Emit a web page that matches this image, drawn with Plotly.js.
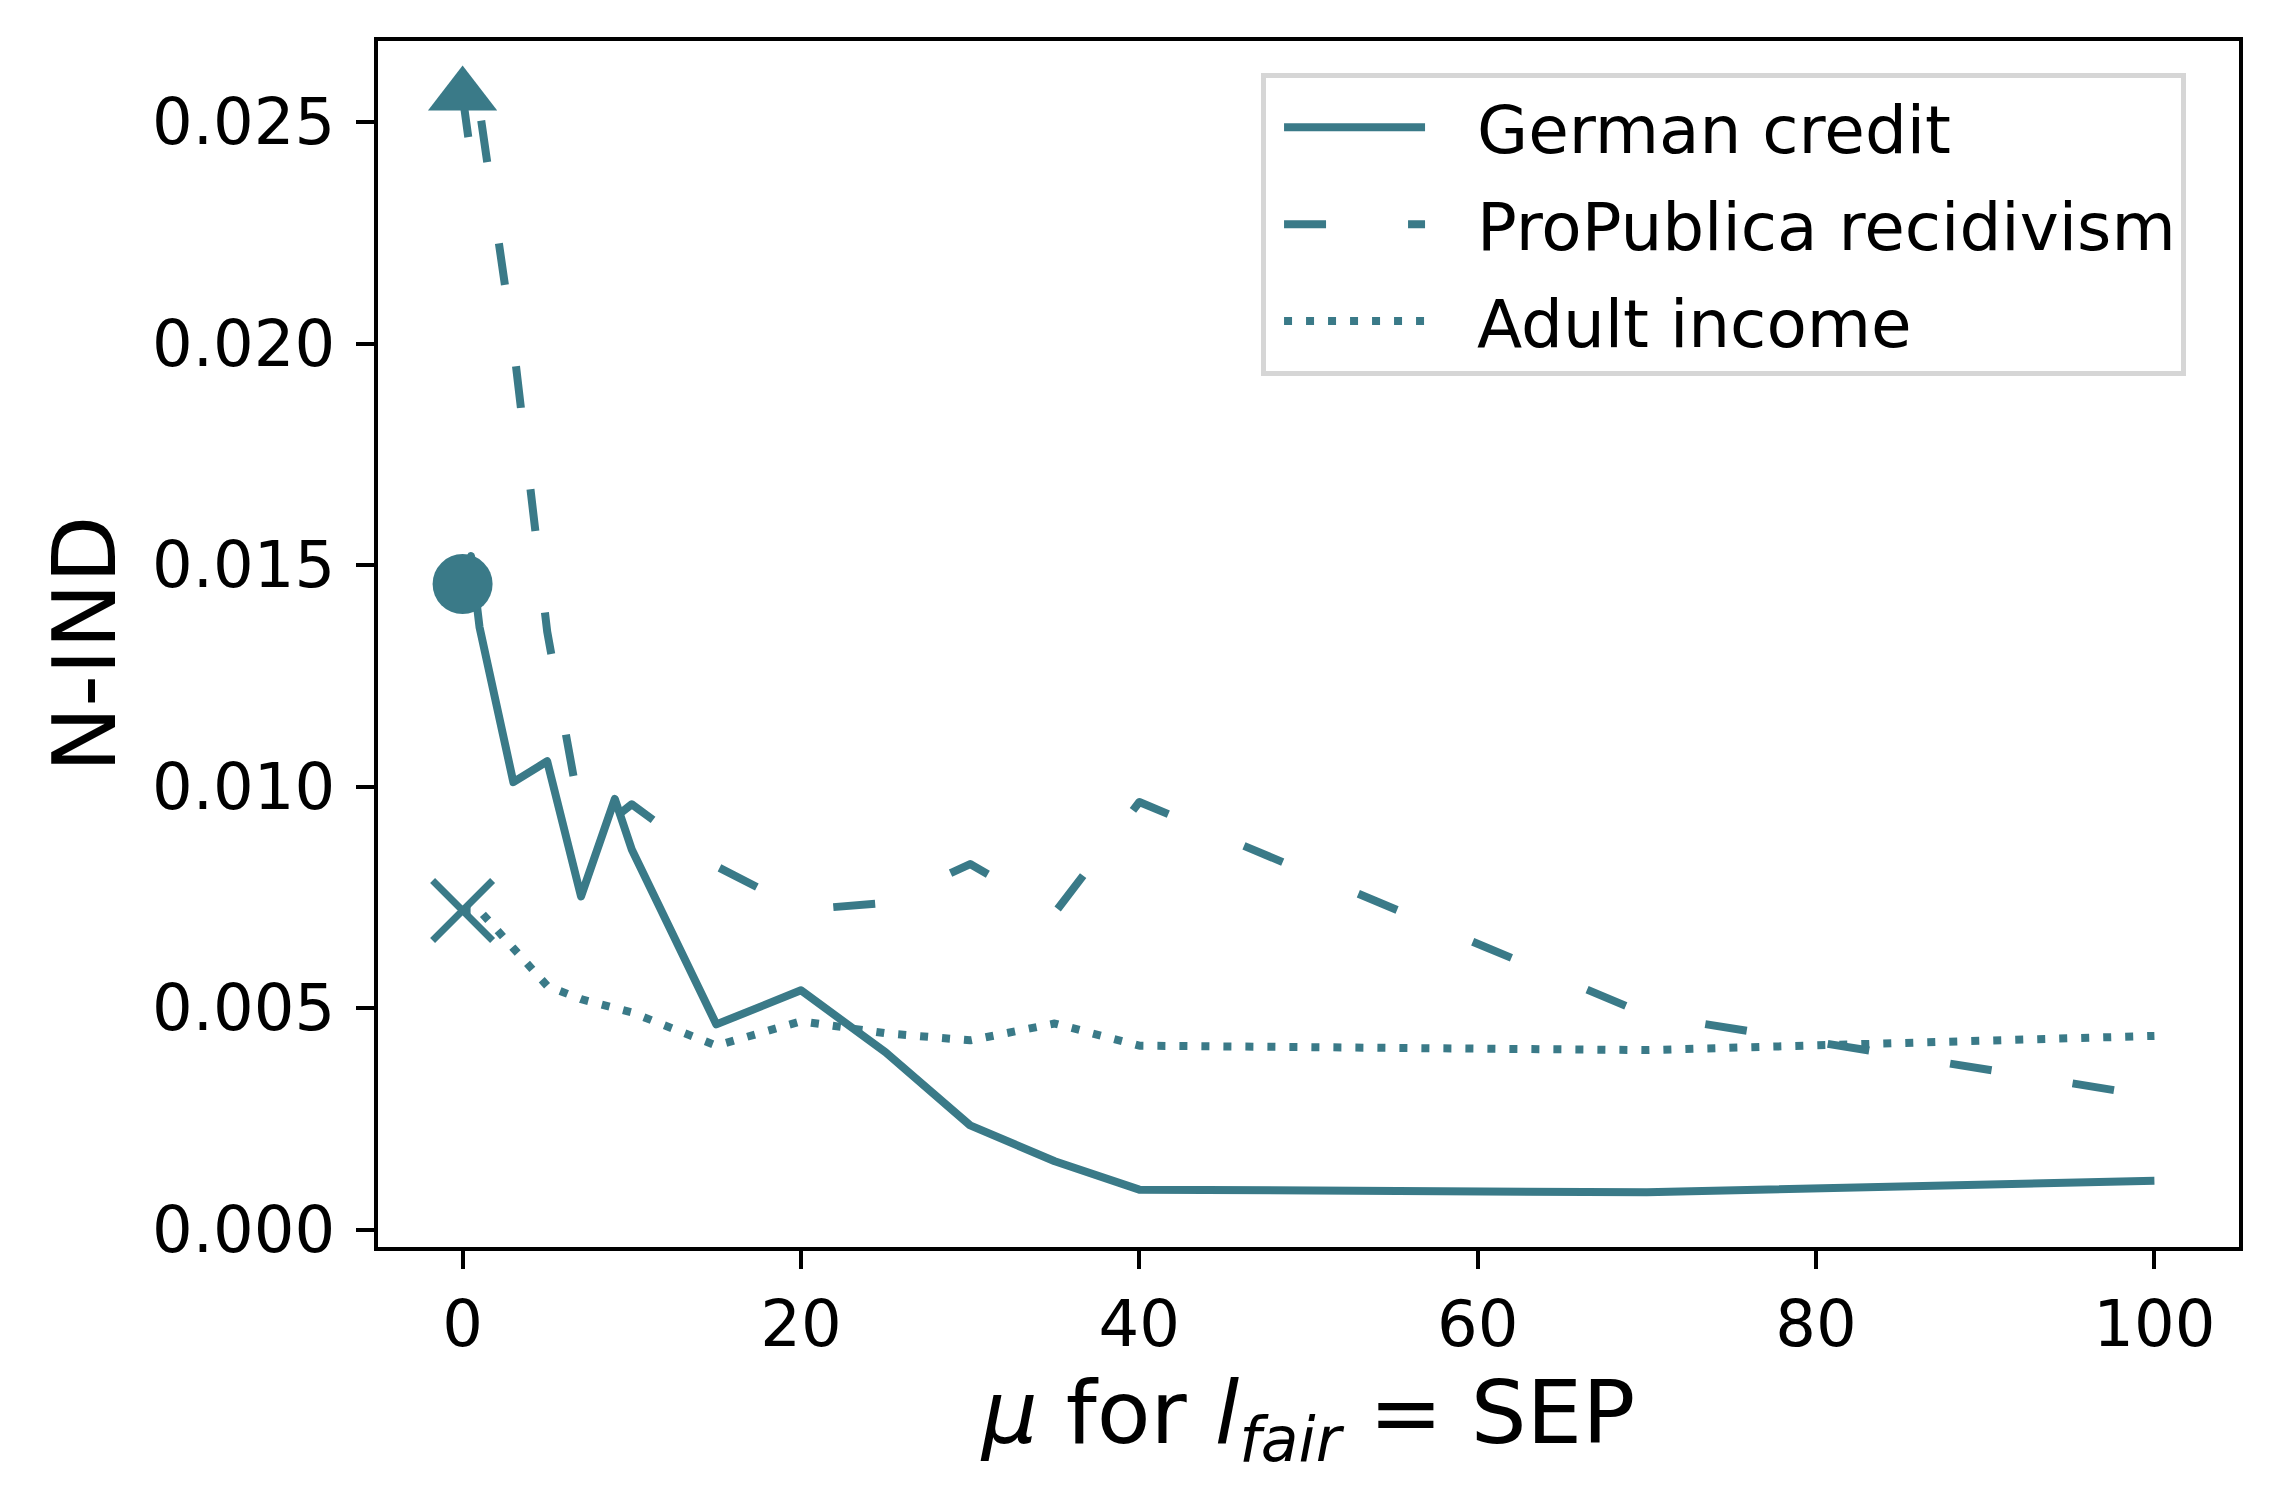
<!DOCTYPE html>
<html><head><meta charset="utf-8">
<script src="https://cdn.plot.ly/plotly-3.0.1.min.js"></script>
<style>
html,body{margin:0;padding:0;background:#fff;}
#chart{width:2278px;height:1504px;}
.scatterlayer path.js-line{stroke-linejoin:round;}
</style>
</head><body><div id="chart"></div>
<script>
// mu values (x axis)
const mu = [0, 0.5, 1, 3, 5, 7, 9, 10, 15, 20, 25, 30, 35, 40, 70, 100];
// N-IND per dataset
const germanCredit = [0.01457, 0.0152, 0.0136, 0.0101, 0.01057, 0.00752, 0.00972, 0.00858, 0.00463, 0.00540, 0.00400, 0.00235, 0.00154, 0.00090, 0.00084, 0.00110];
const propublica = [0.0256, 0.0242, 0.0253, 0.0200, 0.0135, 0.0093, 0.0093, 0.0096, 0.0082, 0.00722, 0.00737, 0.00825, 0.00715, 0.00965, 0.00485, 0.0030];
const adultIncome = [0.0072, 0.0072, 0.0072, 0.00635, 0.0055, 0.0052, 0.00502, 0.0049, 0.00415, 0.0047, 0.00443, 0.00427, 0.00465, 0.00415, 0.00405, 0.00437];
const seriesNames = ['German credit', 'ProPublica recidivism', 'Adult income'];
const xTicks = [0, 20, 40, 60, 80, 100];
const yTicks = [0, 0.005, 0.010, 0.015, 0.020, 0.025];

const color = '#3a7a88';
const lw = 8;

const traces = [
  {x: mu, y: germanCredit, name: seriesNames[0], mode: 'lines', line: {color: color, width: lw}, legendgroup: 'g1'},
  {x: mu, y: propublica, name: seriesNames[1], mode: 'lines', line: {color: color, width: lw, dash: '42px,82px'}, legendgroup: 'g2'},
  {x: mu, y: adultIncome, name: seriesNames[2], mode: 'lines', line: {color: color, width: lw, dash: '8px,14px'}, legendgroup: 'g3'},
  {x: [mu[0]], y: [germanCredit[0]], mode: 'markers', showlegend: false, marker: {symbol: 'circle', size: 60, color: color}},
  {x: [mu[0]], y: [propublica[0]], mode: 'markers', showlegend: false, marker: {symbol: 'triangle-up', size: 60, color: color}},
  {x: [mu[0]], y: [adultIncome[0]], mode: 'markers', showlegend: false, marker: {symbol: 'x-thin', size: 60, color: color, line: {color: color, width: 7}}}
];

const axisCommon = {
  ticks: 'outside', ticklen: 18, tickwidth: 4, tickcolor: '#000',
  showline: true, linewidth: 4, linecolor: '#000', mirror: true,
  showgrid: false, zeroline: false, automargin: false,
  tickfont: {family: 'DejaVu Sans', size: 64, color: '#000'}
};

const layout = {
  width: 2278, height: 1504,
  margin: {l: 378, r: 39, t: 41, b: 257, pad: 0},
  paper_bgcolor: '#ffffff', plot_bgcolor: '#ffffff',
  font: {family: 'DejaVu Sans', color: '#000'},
  showlegend: true,
  xaxis: Object.assign({}, axisCommon, {
    range: [-5, 105], tickmode: 'array', tickvals: xTicks, ticktext: xTicks.map(String),
    title: {text: '<i>μ</i> for <i>l</i><sub><i>fair</i></sub> = SEP', font: {family: 'DejaVu Sans', size: 88, color: '#000'}, standoff: 21}
  }),
  yaxis: Object.assign({}, axisCommon, {
    range: [-0.000395, 0.02683], tickmode: 'array', tickvals: yTicks, ticktext: yTicks.map(v => v.toFixed(3)),
    ticklabelstandoff: 8,
    title: {text: 'N-IND', font: {family: 'DejaVu Sans', size: 88, color: '#000'}, standoff: 8}
  }),
  legend: {
    x: 0.4745, xanchor: 'left', y: 0.9735, yanchor: 'top',
    font: {family: 'DejaVu Sans', size: 66, color: '#000'},
    bgcolor: 'rgba(255,255,255,0.8)', bordercolor: '#d6d6d6', borderwidth: 5,
    itemwidth: 201, traceorder: 'grouped', tracegroupgap: 8
  }
};

Plotly.newPlot('chart', traces, layout, {staticPlot: true}).then(function(gd) {
  const items = gd.querySelectorAll('.legend .traces');
  items.forEach(function(item) {
    const path = item.querySelector('path.js-line');
    const text = item.querySelector('text.legendtext');
    if (!path || !text) return;
    const tr = text.getBoundingClientRect();
    const ctm = path.getScreenCTM();
    const xStart = tr.left - 193;
    path.setAttribute('d', 'M' + (xStart - ctm.e) + ',0h141');
  });
});
</script>
</body></html>
